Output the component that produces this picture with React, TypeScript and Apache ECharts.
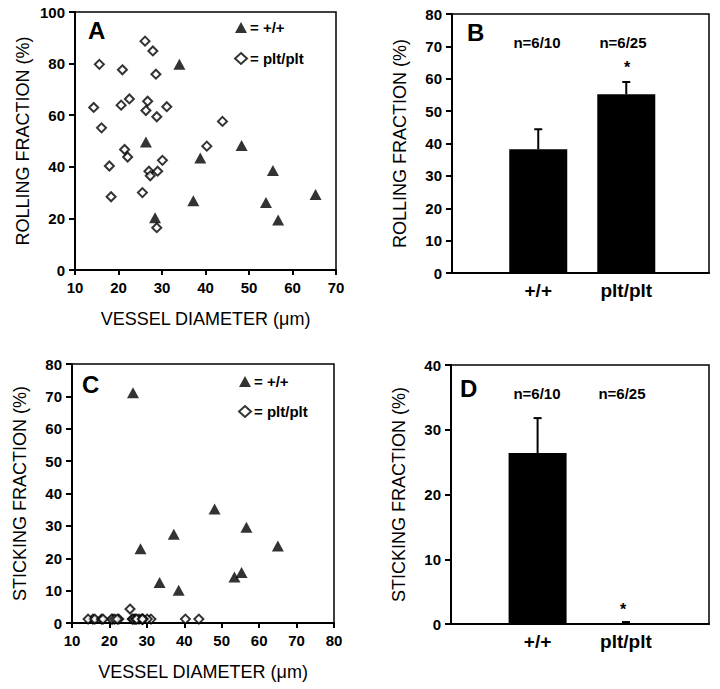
import React, { useEffect, useRef } from "react";
import * as echarts from "echarts";

// ---------- data ----------
// Panel A: rolling fraction vs vessel diameter
const rollWtDiameter = [34, 26.3, 48.3, 38.8, 55.5, 37.2, 53.9, 65.3, 56.7, 28.4];
const rollWtFraction = [79.7, 49.6, 48.3, 43.4, 38.6, 26.8, 26.2, 29.3, 19.4, 20.3];
const rollPltDiameter = [26.1, 27.9, 15.6, 20.9, 28.6, 14.3, 20.6, 22.5, 26.7, 26.3, 31.1, 28.8, 16.1, 43.9, 40.3, 21.4, 22.1, 17.9, 30.1, 27.0, 27.3, 29.0, 18.3, 25.5, 28.8];
const rollPltFraction = [88.7, 84.9, 79.7, 77.6, 75.9, 63.0, 63.9, 66.3, 65.4, 61.8, 63.3, 59.4, 55.1, 57.6, 48.0, 46.7, 43.8, 40.3, 42.5, 38.3, 36.5, 38.3, 28.4, 30.0, 16.4];

// Panel C: sticking fraction vs vessel diameter
const stickWtDiameter = [26.3, 28.3, 33.4, 37.2, 38.5, 48.1, 56.6, 53.4, 55.3, 65.0];
const stickWtFraction = [71.1, 22.9, 12.5, 27.4, 10.1, 35.2, 29.6, 14.2, 15.6, 23.8];
const stickPltDiameter = [26.1, 27.9, 15.6, 20.9, 28.6, 14.3, 20.6, 22.5, 26.7, 26.3, 31.1, 28.8, 16.1, 43.9, 40.3, 21.4, 22.1, 17.9, 30.1, 27.0, 27.3, 29.0, 18.3, 25.5, 28.8];
const stickPltFraction = [1.2, 1.2, 1.2, 1.2, 1.2, 1.2, 1.2, 1.2, 1.2, 1.2, 1.2, 1.2, 1.2, 1.2, 1.2, 1.2, 1.2, 1.2, 1.2, 1.2, 1.2, 1.2, 1.2, 4.3, 1.2];

// Panels B and D: bar means with SEM
const barCategories = ["+/+", "plt/plt"];
const rollingMean = [38.2, 55.2];
const rollingSem = [6.2, 3.8];
const stickingMean = [26.4, 0.1];
const stickingSem = [5.4, 0.2];
const nLabels = ["n=6/10", "n=6/25"];

// tick settings
const scatterXTicksA = { min: 10, max: 70, interval: 10 };
const scatterXTicksC = { min: 10, max: 80, interval: 10 };
const yTicksA = { min: 0, max: 100, interval: 20 };
const yTicksB = { min: 0, max: 80, interval: 10 };
const yTicksC = { min: 0, max: 80, interval: 10 };
const yTicksD = { min: 0, max: 40, interval: 10 };

const FONT = '"Liberation Sans", Arial, Helvetica, sans-serif';
const BLACK = "#000";

function pairs(xs: number[], ys: number[]) {
  return xs.map((x, i) => [x, ys[i]]);
}

const labelStyle = {
  color: BLACK,
  fontFamily: FONT,
  fontSize: 15,
  fontWeight: "bold" as const,
  margin: 10,
};

function nameStyle(size: number) {
  return {
    color: BLACK,
    fontFamily: FONT,
    fontSize: size,
    fontWeight: "normal" as const,
  };
}

function valueAxisY(gridIndex: number, t: { min: number; max: number; interval: number }, name: string) {
  return {
    type: "value",
    gridIndex,
    min: t.min,
    max: t.max,
    interval: t.interval,
    name,
    nameLocation: "middle",
    nameGap: 43,
    nameTextStyle: nameStyle(18),
    axisLine: { show: true, lineStyle: { color: BLACK, width: 2 } },
    axisTick: { show: true, inside: false, length: 6, lineStyle: { color: BLACK, width: 2 } },
    axisLabel: labelStyle,
    splitLine: { show: false },
  };
}

function scatterAxisX(gridIndex: number, t: { min: number; max: number; interval: number }) {
  return {
    type: "value",
    gridIndex,
    min: t.min,
    max: t.max,
    interval: t.interval,
    name: "VESSEL DIAMETER (\u03bcm)",
    nameLocation: "middle",
    nameGap: 40,
    nameTextStyle: nameStyle(18),
    axisLine: { show: true, onZero: false, lineStyle: { color: BLACK, width: 2 } },
    axisTick: { show: true, inside: false, length: 5, lineStyle: { color: BLACK, width: 2 } },
    axisLabel: labelStyle,
    splitLine: { show: false },
  };
}

function barAxisX(gridIndex: number) {
  return {
    type: "value",
    gridIndex,
    min: 0.02,
    max: 2.94,
    axisLine: { show: true, onZero: false, lineStyle: { color: BLACK, width: 2 } },
    axisTick: { show: false },
    axisLabel: {
      show: true,
      customValues: [1, 2],
      formatter: (v: number) => barCategories[Math.round(v) - 1] ?? "",
      color: BLACK,
      fontFamily: FONT,
      fontSize: 19,
      fontWeight: "bold",
      margin: 8,
    },
    splitLine: { show: false },
  };
}

function errorBarRender(params: any, api: any) {
  const x = api.value(0);
  const m = api.value(1);
  const s = api.value(2);
  const base = api.coord([x, m]);
  const top = api.coord([x, m + s]);
  const hw = 4;
  return {
    type: "group",
    children: [
      { type: "line", shape: { x1: base[0], y1: base[1], x2: top[0], y2: top[1] }, style: { stroke: BLACK, lineWidth: 2 } },
      { type: "line", shape: { x1: top[0] - hw, y1: top[1], x2: top[0] + hw, y2: top[1] }, style: { stroke: BLACK, lineWidth: 2 } },
    ],
  };
}

function textEl(text: string, x: number, y: number, size: number, align: string = "left") {
  return {
    type: "text",
    x,
    y,
    style: {
      text,
      fill: BLACK,
      font: `bold ${size}px ${FONT}`,
      textAlign: align,
      textVerticalAlign: "middle",
    },
  };
}

function legendAt(left: number, top: number, gap: number) {
  return {
    orient: "vertical",
    left,
    top,
    padding: 0,
    itemWidth: 12,
    itemHeight: 11,
    itemGap: gap,
    data: ["+/+", "plt/plt"],
    formatter: "= {name}",
    selectedMode: false,
    textStyle: { color: BLACK, fontFamily: FONT, fontSize: 15, fontWeight: "bold", padding: [0, 0, 0, -2] },
  };
}

export default function App() {
  const ref = useRef<HTMLDivElement>(null);

  useEffect(() => {
    if (!ref.current) return;
    const chart = echarts.init(ref.current, undefined, { renderer: "svg" });

    const gridStyle = { show: true, borderColor: BLACK, borderWidth: 1.5, backgroundColor: "transparent" };

    const option: any = {
      animation: false,
      backgroundColor: "#fff",
      grid: [
        { left: 75, top: 12, width: 261, height: 258, ...gridStyle },
        { left: 452, top: 14, width: 257, height: 259, ...gridStyle },
        { left: 72, top: 364, width: 262, height: 259, ...gridStyle },
        { left: 451, top: 365, width: 258, height: 259, ...gridStyle },
      ],
      xAxis: [
        scatterAxisX(0, scatterXTicksA),
        barAxisX(1),
        scatterAxisX(2, scatterXTicksC),
        barAxisX(3),
      ],
      yAxis: [
        valueAxisY(0, yTicksA, "ROLLING FRACTION (%)"),
        valueAxisY(1, yTicksB, "ROLLING FRACTION (%)"),
        valueAxisY(2, yTicksC, "STICKING FRACTION (%)"),
        valueAxisY(3, yTicksD, "STICKING FRACTION (%)"),
      ],
      legend: [legendAt(234, 20, 16), legendAt(238, 374, 15)],
      series: [
        {
          name: "+/+",
          type: "scatter",
          xAxisIndex: 0,
          yAxisIndex: 0,
          symbol: "triangle",
          symbolSize: [12, 11],
          itemStyle: { color: BLACK },
          data: pairs(rollWtDiameter, rollWtFraction),
        },
        {
          name: "plt/plt",
          type: "scatter",
          xAxisIndex: 0,
          yAxisIndex: 0,
          symbol: "diamond",
          symbolSize: 9,
          itemStyle: { color: "#fff", borderColor: BLACK, borderWidth: 2 },
          data: pairs(rollPltDiameter, rollPltFraction),
        },
        {
          name: "rollingBars",
          type: "bar",
          xAxisIndex: 1,
          yAxisIndex: 1,
          barWidth: 58,
          itemStyle: { color: BLACK },
          data: barCategories.map((_, i) => [i + 1, rollingMean[i]]),
        },
        {
          name: "rollingErr",
          type: "custom",
          xAxisIndex: 1,
          yAxisIndex: 1,
          renderItem: errorBarRender,
          data: barCategories.map((_, i) => [i + 1, rollingMean[i], rollingSem[i]]),
          z: 5,
        },
        {
          name: "+/+",
          type: "scatter",
          xAxisIndex: 2,
          yAxisIndex: 2,
          symbol: "triangle",
          symbolSize: [12, 11],
          itemStyle: { color: BLACK },
          data: pairs(stickWtDiameter, stickWtFraction),
        },
        {
          name: "plt/plt",
          type: "scatter",
          xAxisIndex: 2,
          yAxisIndex: 2,
          symbol: "diamond",
          symbolSize: 9,
          itemStyle: { color: "#fff", borderColor: BLACK, borderWidth: 2 },
          data: pairs(stickPltDiameter, stickPltFraction),
        },
        {
          name: "stickingBars",
          type: "bar",
          xAxisIndex: 3,
          yAxisIndex: 3,
          barWidth: 58,
          itemStyle: { color: BLACK },
          data: barCategories.map((_, i) => [i + 1, stickingMean[i]]),
        },
        {
          name: "stickingErr",
          type: "custom",
          xAxisIndex: 3,
          yAxisIndex: 3,
          renderItem: errorBarRender,
          data: barCategories.map((_, i) => [i + 1, stickingMean[i], stickingSem[i]]),
          z: 5,
        },
      ],
      graphic: [
        textEl("A", 88, 30, 24),
        textEl("B", 467, 32, 24),
        textEl("C", 82, 384, 24),
        textEl("D", 460, 388, 24),
        textEl(nLabels[0], 537, 42, 15, "center"),
        textEl(nLabels[1], 623, 42, 15, "center"),
        textEl(nLabels[0], 537, 393, 15, "center"),
        textEl(nLabels[1], 622, 393, 15, "center"),
        textEl("*", 627, 67, 16, "center"),
        textEl("*", 623, 609, 16, "center"),
      ],
    };

    chart.setOption(option);
    return () => chart.dispose();
  }, []);

  return (
    <div
      ref={ref}
      style={{ position: "absolute", left: 0, top: 0, width: 720, height: 689, background: "#fff" }}
    />
  );
}
